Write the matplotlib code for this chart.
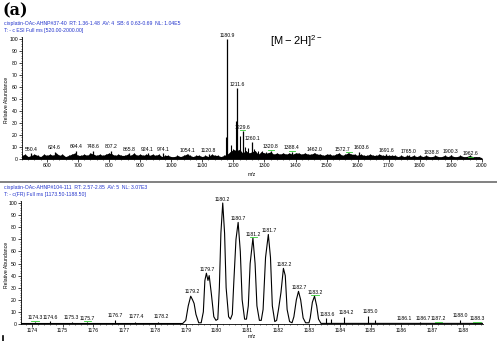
import numpy as np
import matplotlib
matplotlib.use("Agg")
import matplotlib.pyplot as plt
from matplotlib.ticker import MultipleLocator

plt.rcParams['font.family'] = ['Liberation Sans', 'DejaVu Sans']
plt.rcParams['mathtext.fontset'] = 'custom'
plt.rcParams['mathtext.rm'] = 'Liberation Sans'

# ---- full scan (top) ----
full_mz = [550.4, 624.6, 694.4, 748.6, 807.2, 865.8, 924.1, 974.1, 1054.1, 1120.8,
           1180.9, 1211.6, 1229.6, 1260.1, 1320.8, 1388.4, 1462.0, 1572.7, 1603.6,
           1691.6, 1765.0, 1838.8, 1900.3, 1962.6]
full_int = [5, 6, 7, 7, 7, 5, 5, 5, 4, 4, 100, 59, 23, 14, 7, 6, 5, 5, 6, 4, 3, 2, 3, 1]
full_green = [1229.6, 1320.8, 1388.4, 1572.7, 1962.6]
full_dx = {1572.7: -5, 1603.6: 2}

extra_mz = [1177, 1192, 1208, 1222, 1238, 1247, 1268, 1280, 1292, 1305]
extra_int = [18, 12, 32, 19, 10, 9, 8, 7, 7, 6]

noise_mz = np.arange(520, 2001, 10)
noise_int = [3, 4, 2, 3, 4, 3, 2, 4, 3,
             4, 3, 5, 3, 4, 2, 3, 4, 5, 3,
             3, 4, 3, 5, 4, 3, 4, 3, 4, 5,
             4, 3, 4, 3, 3, 4, 3, 5, 3, 4,
             3, 4, 3, 4, 3, 4, 2, 3, 3, 2,
             2, 3, 2, 3, 4, 3, 2, 3, 3, 2,
             3, 2, 4, 3, 3, 2, 3, 4, 6, 8,
             7, 8, 5, 7, 5, 6, 7, 4, 6, 5,
             5, 6, 4, 5, 4, 5, 4, 5, 4, 5,
             5, 4, 5, 4, 4, 5, 4, 4, 3, 4,
             4, 3, 4, 5, 3, 4, 5, 4, 4, 3,
             4, 3, 3, 4, 3, 3, 4, 3, 3, 3,
             3, 3, 2, 3, 2, 3, 2, 3, 2, 3,
             2, 3, 2, 2, 3, 2, 2, 3, 2, 3,
             2, 2, 3, 2, 2, 3, 2, 2, 2, 1]

# ---- zoom scan (bottom) ----
prof_mz = [1173.65, 1178.9, 1179.0, 1179.08, 1179.16, 1179.22, 1179.27, 1179.33, 1179.42,
           1179.5, 1179.57, 1179.62, 1179.67, 1179.72, 1179.76, 1179.83, 1179.91, 1179.98,
           1180.04, 1180.09, 1180.14, 1180.2, 1180.26, 1180.31, 1180.39, 1180.45,
           1180.51, 1180.56, 1180.63, 1180.7, 1180.77, 1180.83, 1180.91, 1180.97,
           1181.03, 1181.09, 1181.18, 1181.25, 1181.31, 1181.39, 1181.45,
           1181.51, 1181.59, 1181.68, 1181.75, 1181.81, 1181.89, 1181.95,
           1182.01, 1182.09, 1182.17, 1182.23, 1182.29, 1182.37, 1182.45,
           1182.51, 1182.59, 1182.66, 1182.73, 1182.81, 1182.89, 1183.0,
           1183.04, 1183.11, 1183.18, 1183.25, 1183.31, 1183.39, 1188.65]
prof_int = [0.4, 0.4, 3, 15, 23, 20, 17, 8, 1,
            1, 10, 36, 42, 36, 40, 25, 6, 3,
            4, 30, 75, 100, 75, 30, 6, 4,
            8, 35, 70, 84, 60, 20, 4, 4,
            15, 50, 71, 50, 15, 3, 3,
            12, 55, 74, 55, 15, 2, 3,
            12, 26, 46, 40, 12, 2, 1,
            6, 20, 27, 20, 5, 1, 1,
            5, 18, 23, 15, 4, 0.5, 0.5]

small_mz = [1174.1, 1174.6, 1175.3, 1175.8, 1176.7, 1177.35, 1177.9, 1178.1,
            1183.55, 1183.7, 1184.15, 1184.9, 1185.15, 1186.0, 1186.6, 1187.1, 1187.9, 1188.4]
small_int = [2, 2.5, 1.5, 1.5, 3.5, 2, 1, 2, 5, 4, 6, 7, 3, 1, 1.5, 1, 3.5, 1]

zoom_lab_mz = [1174.1, 1174.6, 1175.3, 1175.8, 1176.7, 1177.4, 1178.2, 1179.2, 1179.7,
               1180.2, 1180.7, 1181.2, 1181.7, 1182.2, 1182.7, 1183.2, 1183.6, 1184.2,
               1185.0, 1186.1, 1186.7, 1187.2, 1187.9, 1188.45]
zoom_lab_txt = ["1174.3", "1174.6", "1175.3", "1175.7", "1176.7", "1177.4", "1178.2",
                "1179.2", "1179.7", "1180.2", "1180.7", "1181.2", "1181.7", "1182.2",
                "1182.7", "1183.2", "1183.6", "1184.2", "1185.0", "1186.1", "1186.7",
                "1187.2", "1188.0", "1188.3"]
zoom_lab_int = [2, 2.5, 2, 1.5, 3.5, 3, 3, 24, 42, 100, 84, 71, 74, 46, 27, 23, 5, 6, 7,
                1, 1.5, 1, 3.5, 1]
zoom_green = ["1174.3", "1175.7", "1181.2", "1183.2", "1187.2", "1188.3"]

blue = '#2233cc'
fs = 3.7
W, H = 497, 341


def style_axis(ax, xmaj, xmin_):
    for s in ['top', 'right']:
        ax.spines[s].set_visible(False)
    for s in ['left', 'bottom']:
        ax.spines[s].set_linewidth(0.6)
    ax.yaxis.set_major_locator(MultipleLocator(10))
    ax.yaxis.set_minor_locator(MultipleLocator(2))
    ax.xaxis.set_major_locator(MultipleLocator(xmaj))
    ax.xaxis.set_minor_locator(MultipleLocator(xmin_))
    ax.tick_params(which='major', length=2, width=0.5, labelsize=fs, pad=1)
    ax.tick_params(which='minor', length=1, width=0.4)
    ax.set_ylim(0, 102)


fig = plt.figure(figsize=(W / 100, H / 100), dpi=100)

# top panel
ax1 = fig.add_axes([22 / W, 1 - 159 / H, 460 / W, 122.4 / H])
ax1.fill_between(noise_mz, noise_int, color='black', lw=0)
ax1.vlines(noise_mz, 0, noise_int, color='black', lw=0.8)
ax1.vlines(extra_mz, 0, extra_int, color='black', lw=0.8)
ax1.vlines(full_mz, 0, full_int, color='black', lw=0.9)
for m, h in zip(full_mz, full_int):
    t = '%.1f' % m
    ax1.annotate(t, (m, h), xytext=(full_dx.get(m, 0), 1), textcoords='offset points',
                 ha='center', va='bottom', fontsize=fs)
    if m in full_green:
        ax1.plot([m - 9, m + 9], [h + 0.8, h + 0.8], color='#33cc33', lw=0.6)
ax1.set_xlim(520, 2000)
style_axis(ax1, 100, 20)
ax1.set_xticks(np.arange(600, 2001, 100))

# bottom panel
ax2 = fig.add_axes([21 / W, 1 - 324 / H, 462 / W, 123.4 / H])
ax2.plot(prof_mz, prof_int, color='black', lw=0.8)
ax2.vlines(small_mz, 0, small_int, color='black', lw=0.8)
for m, t, h in zip(zoom_lab_mz, zoom_lab_txt, zoom_lab_int):
    ax2.annotate(t, (m, h), xytext=(0, 1), textcoords='offset points',
                 ha='center', va='bottom', fontsize=fs)
    if t in zoom_green:
        ax2.plot([m - 0.12, m + 0.12], [h + 0.6, h + 0.6], color='#33cc33', lw=0.6)
ax2.set_xlim(1173.65, 1188.65)
style_axis(ax2, 1, 0.2)

# texts
fig.text(3 / W, 1 - 11 / H, '(a)', fontsize=11.5, fontweight='bold',
         family='DejaVu Serif', va='center')
fig.text(4 / W, 1 - 24 / H,
         'cisplatin-OAc-AHNP#37-40  RT: 1.36-1.48  AV: 4  SB: 6 0.63-0.69  NL: 1.04E5',
         color=blue, fontsize=fs, va='center')
fig.text(4 / W, 1 - 30.5 / H, 'T: - c ESI Full ms [520.00-2000.00]',
         color=blue, fontsize=fs, va='center')
fig.text(4 / W, 1 - 188 / H,
         'cisplatin-OAc-AHNP#104-111  RT: 2.57-2.85  AV: 5  NL: 3.07E3',
         color=blue, fontsize=fs, va='center')
fig.text(4 / W, 1 - 194.5 / H, 'T: - c(FR) Full ms [1173.50-1188.50]',
         color=blue, fontsize=fs, va='center')
fig.text(270 / W, 1 - 41 / H, r'$[\mathrm{M}-2\mathrm{H}]^{2-}$', fontsize=8, va='center')
for yc in [100, 265]:
    fig.text(7 / W, 1 - yc / H, 'Relative Abundance', rotation=90,
             fontsize=fs, ha='center', va='center')
fig.text(252 / W, 1 - 175 / H, 'm/z', fontsize=fs, ha='center', va='center')
fig.text(252 / W, 1 - 337 / H, 'm/z', fontsize=fs, ha='center', va='center')
fig.add_artist(plt.Line2D([0, 1], [1 - 181.5 / H] * 2, color='#777777', lw=1.3))
# top of the cut-off panel label below
fig.add_artist(plt.Line2D([2.5 / W, 2.5 / W], [0, 5 / H], color='black', lw=1.2))

fig.savefig('out.png', dpi=100)
